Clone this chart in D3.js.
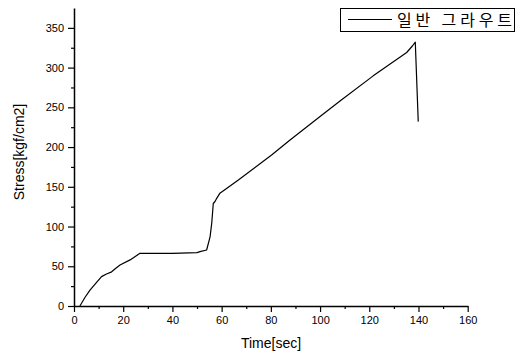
<!DOCTYPE html>
<html>
<head>
<meta charset="utf-8">
<script src="https://cdn.jsdelivr.net/npm/d3@7"></script>
<style>
  body { margin: 0; background: #fff; }
  text { font-family: "Liberation Sans", Arial, sans-serif; fill: #000; }
</style>
</head>
<body>
<div id="chart"></div>
<script>
// values
var timeSec = [2.4, 4.5, 6.5, 9, 11.2, 13, 15.3, 17, 18.7, 22.8, 26.8, 30, 40, 50, 51.2, 53.9,
               55.3, 56, 56.6, 57.3, 58, 59.3, 62, 66.8, 80.3, 87.8, 100, 108.1, 121.6, 135.2,
               137.6, 138.7, 139.9];
var stress = [0, 11, 20, 29, 37, 40, 43, 47.5, 51.6, 58, 66.3, 66.3, 66.2, 67.1, 68.4, 70.5,
              87, 105, 129, 131.5, 135.5, 142, 148, 158.5, 190, 209, 238.5, 258, 289.6, 319,
              327.5, 332, 232];
var xTicks = [0, 20, 40, 60, 80, 100, 120, 140, 160];
var yTicks = [0, 50, 100, 150, 200, 250, 300, 350];
var legendLabel = "일반 그라우트";

var w = 523, h = 355;
var svg = d3.select('#chart').append('svg')
  .attr('width', w)
  .attr('height', h);

var x = d3.scaleLinear().domain([0, 160]).range([74, 467.7]);
var y = d3.scaleLinear().domain([0, 375]).range([306, 8]);

// minor ticks first (short), then major ones with labels
svg.append('g')
  .attr('transform', 'translate(0,306)')
  .call(d3.axisBottom(x).tickValues(d3.range(10, 160, 20)).tickSize(3).tickFormat(''))
  .call(function(g) { g.select('.domain').remove(); });
svg.append('g')
  .attr('transform', 'translate(74,0)')
  .call(d3.axisLeft(y).tickValues(d3.range(25, 375, 50)).tickSize(3).tickFormat(''))
  .call(function(g) { g.select('.domain').remove(); });

var xAxis = svg.append('g')
  .attr('transform', 'translate(0,306)')
  .call(d3.axisBottom(x).tickValues(xTicks).tickSize(6).tickSizeOuter(0).tickPadding(4));
var yAxis = svg.append('g')
  .attr('transform', 'translate(74,0)')
  .call(d3.axisLeft(y).tickValues(yTicks).tickSize(6).tickSizeOuter(0).tickPadding(4));

svg.selectAll('.tick line').attr('stroke', '#000').attr('stroke-width', 1.2);
svg.selectAll('.domain').attr('stroke', '#000').attr('stroke-width', 1.5);
svg.selectAll('.tick text')
  .style('font-family', '"Liberation Sans", Arial, sans-serif')
  .style('font-size', '11px')
  .attr('fill', '#000');

// axis titles
svg.append('text')
  .attr('x', 271)
  .attr('y', 348)
  .attr('text-anchor', 'middle')
  .style('font-size', '14px')
  .text('Time[sec]');
svg.append('text')
  .attr('transform', 'translate(24,152) rotate(-90)')
  .attr('text-anchor', 'middle')
  .style('font-size', '14px')
  .text('Stress[kgf/cm2]');

// the curve
var line = d3.line()
  .x(function(d, i) { return x(timeSec[i]); })
  .y(function(d) { return y(d); });
svg.append('path')
  .datum(stress)
  .attr('d', line)
  .attr('fill', 'none')
  .attr('stroke', '#000')
  .attr('stroke-width', 1.2)
  .attr('stroke-linejoin', 'round');

// legend
var lg = svg.append('g');
lg.append('rect')
  .attr('x', 340.5).attr('y', 8.5)
  .attr('width', 174).attr('height', 23)
  .attr('fill', '#fff').attr('stroke', '#000').attr('stroke-width', 1);
lg.append('line')
  .attr('x1', 348).attr('x2', 392)
  .attr('y1', 19.5).attr('y2', 19.5)
  .attr('stroke', '#000').attr('stroke-width', 1.2);
lg.append('text')
  .attr('x', 397)
  .attr('y', 26)
  .attr('textLength', 115)
  .style('font-family', '"Noto Sans CJK KR", sans-serif')
  .style('font-size', '16px')
  .text(legendLabel);
</script>
</body>
</html>
